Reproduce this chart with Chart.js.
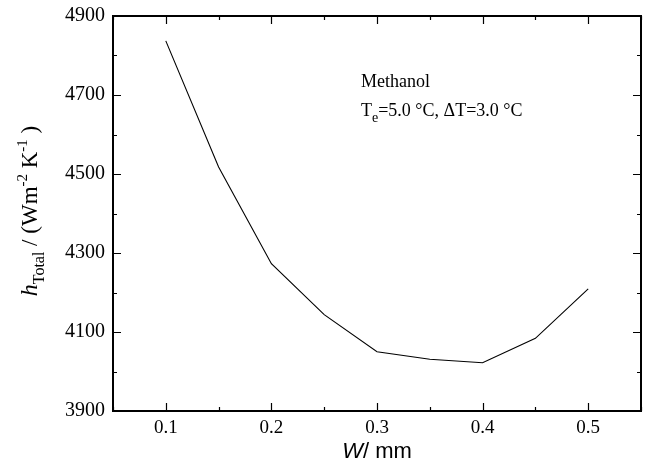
<!DOCTYPE html>
<html>
<head>
<meta charset="utf-8">
<script src="https://cdn.jsdelivr.net/npm/chart.js@4"></script>
<style>
  html, body { margin: 0; padding: 0; background: #fff; }
  #wrap { width: 648px; height: 462px; position: relative; }
</style>
</head>
<body>
<div id="wrap"><canvas id="hChart" width="648" height="462"></canvas></div>
<script>
// Channel width W (mm) vs total heat transfer coefficient
const widths = [0.1, 0.15, 0.2, 0.25, 0.3, 0.35, 0.4, 0.45, 0.5];
const hTotal = [4837, 4518, 4273, 4144, 4050, 4031, 4022, 4084, 4209];

const xLabels = [0.1, 0.2, 0.3, 0.4, 0.5];
const yLabels = [3900, 4100, 4300, 4500, 4700, 4900];

const serif = '"Liberation Serif", "Times New Roman", serif';
const sans = '"Liberation Sans", Arial, sans-serif';

// inward ticks on all four sides plus the frame
const frameTicks = {
    id: 'frameTicks',
    afterDraw(chart) {
        const { ctx, chartArea: a, scales: { x, y } } = chart;
        ctx.save();
        ctx.strokeStyle = '#000';
        ctx.lineWidth = 1.2;
        x.ticks.forEach(t => {
            const px = Math.round(x.getPixelForValue(t.value)) + 0.5;
            const major = xLabels.some(v => Math.abs(v - t.value) < 1e-6);
            const len = major ? 8 : 4;
            ctx.beginPath();
            ctx.moveTo(px, a.bottom); ctx.lineTo(px, a.bottom - len);
            ctx.moveTo(px, a.top); ctx.lineTo(px, a.top + len);
            ctx.stroke();
        });
        y.ticks.forEach(t => {
            const py = Math.round(y.getPixelForValue(t.value)) + 0.5;
            const major = yLabels.includes(t.value);
            const len = major ? 8 : 4;
            ctx.beginPath();
            ctx.moveTo(a.left, py); ctx.lineTo(a.left + len, py);
            ctx.moveTo(a.right, py); ctx.lineTo(a.right - len, py);
            ctx.stroke();
        });
        ctx.lineWidth = 2;
        ctx.strokeRect(a.left, a.top, a.right - a.left, a.bottom - a.top);
        ctx.restore();
    }
};

// axis titles and the text block inside the plot
const titles = {
    id: 'titles',
    afterDraw(chart) {
        const { ctx, chartArea: a } = chart;
        ctx.save();
        ctx.fillStyle = '#000';
        ctx.textBaseline = 'alphabetic';

        // x title: W/ mm
        const cx = (a.left + a.right) / 2;
        ctx.font = 'italic 22px ' + sans;
        const wW = ctx.measureText('W').width;
        ctx.font = '22px ' + sans;
        const restW = ctx.measureText('/ mm').width;
        const sx = cx - (wW + restW) / 2;
        ctx.font = 'italic 22px ' + sans;
        ctx.fillText('W', sx, 458);
        ctx.font = '22px ' + sans;
        ctx.fillText('/ mm', sx + wW, 458);

        // y title, rotated
        const parts = [
            { t: 'h', f: 'italic 24px ' + serif, dy: 0 },
            { t: 'Total', f: '16px ' + serif, dy: 7 },
            { t: ' / (Wm', f: '23px ' + serif, dy: 0 },
            { t: '-2', f: '15px ' + serif, dy: -10 },
            { t: ' K', f: '23px ' + serif, dy: 0 },
            { t: '-1', f: '15px ' + serif, dy: -10 },
            { t: ' )', f: '23px ' + serif, dy: 0 }
        ];
        let total = 0;
        parts.forEach(p => { ctx.font = p.f; p.w = ctx.measureText(p.t).width; total += p.w; });
        ctx.translate(37, 211);
        ctx.rotate(-Math.PI / 2);
        let px = -total / 2;
        parts.forEach(p => {
            ctx.font = p.f;
            ctx.fillText(p.t, px, p.dy);
            px += p.w;
        });
        ctx.setTransform(1, 0, 0, 1, 0, 0);

        // note block
        ctx.font = '18px ' + serif;
        ctx.fillText('Methanol', 361, 87);
        let nx = 361;
        ctx.fillText('T', nx, 116); nx += ctx.measureText('T').width;
        ctx.font = '14px ' + serif;
        ctx.fillText('e', nx, 122); nx += ctx.measureText('e').width;
        ctx.font = '18px ' + serif;
        ctx.fillText('=5.0 °C, ΔT=3.0 °C', nx, 116);
        ctx.restore();
    }
};

new Chart(document.getElementById('hChart'), {
    type: 'line',
    data: {
        datasets: [{
            data: widths.map((w, i) => ({ x: w, y: hTotal[i] })),
            borderColor: '#000',
            borderWidth: 1.1,
            pointRadius: 0,
            tension: 0,
            fill: false
        }]
    },
    options: {
        responsive: false,
        animation: false,
        layout: { padding: { top: 16, right: 7, left: 0, bottom: 0 } },
        plugins: { legend: { display: false }, tooltip: { enabled: false } },
        scales: {
            x: {
                type: 'linear',
                min: 0.05, max: 0.55,
                afterFit(s) { s.height = 51; s.paddingLeft = 0; s.paddingRight = 0; },
                afterBuildTicks(s) {
                    s.ticks = [];
                    for (let i = 1; i <= 11; i++) s.ticks.push({ value: Math.round(i * 5) / 100 });
                },
                grid: { display: false, drawTicks: false },
                border: { display: false },
                ticks: {
                    padding: 6,
                    color: '#000',
                    font: { family: serif, size: 19 },
                    autoSkip: false,
                    maxRotation: 0,
                    callback: v => xLabels.some(l => Math.abs(l - v) < 1e-6) ? v.toFixed(1) : ''
                }
            },
            y: {
                min: 3900, max: 4900,
                afterFit(s) { s.width = 113; s.paddingTop = 0; s.paddingBottom = 0; },
                afterBuildTicks(s) {
                    s.ticks = [];
                    for (let v = 3900; v <= 4900; v += 100) s.ticks.push({ value: v });
                },
                grid: { display: false, drawTicks: false },
                border: { display: false },
                ticks: {
                    padding: 8,
                    color: '#000',
                    font: { family: serif, size: 20 },
                    autoSkip: false,
                    callback: v => yLabels.includes(v) ? String(v) : ''
                }
            }
        }
    },
    plugins: [frameTicks, titles]
});
</script>
</body>
</html>
